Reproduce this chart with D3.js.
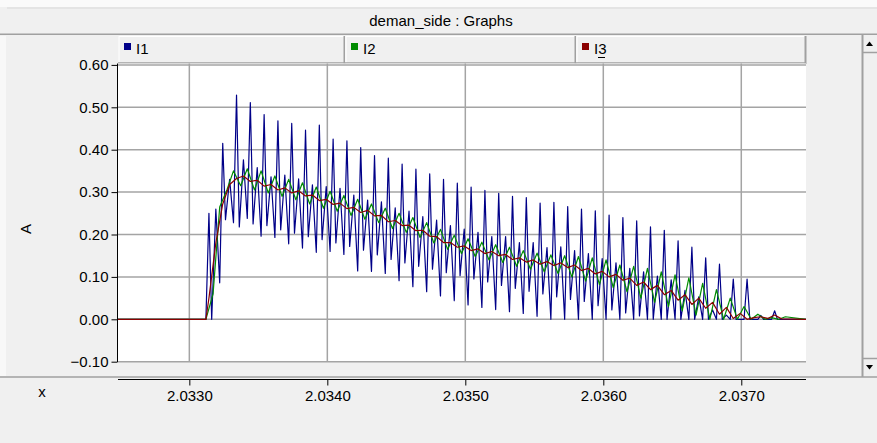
<!DOCTYPE html>
<html>
<head>
<meta charset="utf-8">
<script src="https://cdn.jsdelivr.net/npm/d3@7"></script>
<style>
  html, body { margin: 0; padding: 0; background: #f0f0f0; }
  svg { display: block; }
  text { font-family: Arial, "Liberation Sans", sans-serif; fill: #000; }
</style>
</head>
<body>
<svg id="chart" width="877" height="443"></svg>
<script>
// ---------------- data ----------------
const chartTitle = "deman_side : Graphs";
const seriesNames = ["I1", "I2", "I3"];
const yLabel = "A";
const xLabel = "x";
const xDomain = [2.032483, 2.037469];
const yDomain = [-0.1, 0.6];
const xTicks = [2.0330, 2.0340, 2.0350, 2.0360, 2.0370];
const yTicks = [-0.1, 0.0, 0.1, 0.2, 0.3, 0.4, 0.5, 0.6];

const onsetTime = 2.03312;      // currents start rising
const cycleStart = 2.033142;    // first switching cycle
const cyclePeriod = 0.0001;     // 10 kHz switching

// I1 : per switching cycle, sampled at peak / dip after / mid bump / dip before next peak
const i1Peak = [0.25, 0.415, 0.529, 0.511, 0.483, 0.468, 0.462, 0.446, 0.458, 0.425, 0.421, 0.405, 0.386, 0.380, 0.366, 0.354, 0.343, 0.330, 0.321, 0.312, 0.304, 0.297, 0.290, 0.287, 0.274, 0.276, 0.266, 0.260, 0.256, 0.246, 0.240, 0.232, 0.218, 0.210, 0.185, 0.170, 0.145, 0.130, 0.095, 0.095, 0.009, 0.020];
const i1DipAfter = [0, 0.235, 0.218, 0.225, 0.221, 0.211, 0.203, 0.195, 0.188, 0.180, 0.172, 0.163, 0.152, 0.141, 0.133, 0.125, 0.118, 0.110, 0.103, 0.095, 0.088, 0.080, 0.073, 0.066, 0.060, 0.053, 0.047, 0.042, 0.032, 0.022, 0.015, 0.008, 0, 0, 0, 0, 0, 0, 0, 0, 0, 0];
const i1Mid = [0.26, 0.33, 0.376, 0.358, 0.336, 0.340, 0.331, 0.317, 0.313, 0.309, 0.293, 0.281, 0.277, 0.263, 0.255, 0.242, 0.234, 0.221, 0.213, 0.205, 0.195, 0.195, 0.181, 0.181, 0.169, 0.171, 0.162, 0.155, 0.143, 0.133, 0.120, 0.112, 0.102, 0.093, 0.068, 0.053, 0.022, 0.010, 0, 0, 0, 0];
const i1DipBefore = [0.086, 0.228, 0.238, 0.196, 0.193, 0.178, 0.168, 0.158, 0.160, 0.153, 0.114, 0.113, 0.108, 0.091, 0.077, 0.065, 0.055, 0.044, 0.034, 0.028, 0.023, 0.018, 0.014, 0.007, 0, 0, 0, 0, 0, 0, 0, 0, 0, 0, 0, 0, 0, 0, 0, 0, 0, 0];

// I2 : per cycle low / high
const i2Lo = [0.06, 0.305, 0.315, 0.305, 0.298, 0.29, 0.282, 0.272, 0.262, 0.255, 0.245, 0.236, 0.228, 0.214, 0.205, 0.193, 0.18, 0.165, 0.155, 0.148, 0.14, 0.134, 0.125, 0.118, 0.112, 0.108, 0.1, 0.09, 0.082, 0.075, 0.065, 0.05, 0.04, 0.03, 0.02, 0.01, 0, 0, 0, 0, 0, 0];
const i2Hi = [0.265, 0.35, 0.355, 0.35, 0.338, 0.33, 0.322, 0.312, 0.302, 0.292, 0.283, 0.272, 0.262, 0.25, 0.24, 0.228, 0.212, 0.198, 0.19, 0.182, 0.176, 0.17, 0.162, 0.156, 0.152, 0.15, 0.148, 0.145, 0.14, 0.128, 0.125, 0.12, 0.112, 0.105, 0.098, 0.085, 0.07, 0.05, 0.03, 0.012, 0.004, 0.006];

// I3 : per cycle two samples
const i3A = [0.05, 0.272, 0.332, 0.325, 0.314, 0.305, 0.298, 0.291, 0.28, 0.271, 0.261, 0.252, 0.244, 0.23, 0.221, 0.209, 0.196, 0.181, 0.17, 0.162, 0.155, 0.15, 0.141, 0.135, 0.13, 0.127, 0.122, 0.115, 0.107, 0.1, 0.092, 0.08, 0.07, 0.058, 0.045, 0.035, 0.026, 0.012, 0.002, 0, 0.006, 0.01];
const i3B = [0.18, 0.318, 0.338, 0.328, 0.318, 0.31, 0.303, 0.293, 0.283, 0.274, 0.264, 0.257, 0.245, 0.233, 0.222, 0.21, 0.195, 0.181, 0.173, 0.166, 0.16, 0.153, 0.145, 0.14, 0.136, 0.133, 0.128, 0.12, 0.113, 0.106, 0.097, 0.088, 0.08, 0.068, 0.058, 0.05, 0.04, 0.028, 0.014, 0.004, 0.002, 0.001];

// ---------------- build series ----------------
function buildSeries(parts) {
  const pts = [[xDomain[0], 0], [onsetTime, 0]];
  const n = parts[0][1].length;
  for (let k = 0; k < n; k++) {
    const t = cycleStart + k * cyclePeriod;
    parts.forEach(([frac, arr]) => pts.push([t + frac * cyclePeriod, arr[k]]));
  }
  pts.push([xDomain[1], 0]);
  return pts;
}
const dataI1 = buildSeries([[0, i1Peak], [0.2, i1DipAfter], [0.5, i1Mid], [0.78, i1DipBefore]]);
const dataI2 = buildSeries([[0.3, i2Lo], [0.78, i2Hi]]);
const dataI3 = buildSeries([[0, i3A], [0.5, i3B]]);

// ---------------- drawing ----------------
const colors = { I1: "#000088", I2: "#008c00", I3: "#8b0000" };
const svg = d3.select("#chart");
const W = 877, H = 443;
const plot = { left: 118, right: 806, top: 63.5, bottom: 362 };

svg.append("rect").attr("width", W).attr("height", H).attr("fill", "#f0f0f0");
// top strip
svg.append("rect").attr("x", 0).attr("y", 0).attr("width", W).attr("height", 7).attr("fill", "#fafafa");
svg.append("line").attr("x1", 7).attr("x2", W).attr("y1", 8).attr("y2", 8).attr("stroke", "#d8d8d8").attr("stroke-width", 1);
// title
svg.append("text").attr("x", 441).attr("y", 26).attr("text-anchor", "middle")
  .attr("font-size", 15).text(chartTitle);
svg.append("line").attr("x1", 0).attr("x2", W).attr("y1", 34.2).attr("y2", 34.2)
  .attr("stroke", "#a0a0a0").attr("stroke-width", 1.6);

// left light strip
svg.append("rect").attr("x", 0).attr("y", 36).attr("width", 6).attr("height", 340).attr("fill", "#f8f8f8");

// legend cells
const legendEdges = [118, 345, 576, 806];
seriesNames.forEach((name, i) => {
  const x0 = legendEdges[i], x1 = legendEdges[i + 1];
  const g = svg.append("g");
  g.append("rect").attr("x", x0).attr("y", 36).attr("width", x1 - x0).attr("height", 27).attr("fill", "#f0f0f0");
  g.append("line").attr("x1", x0 + 1).attr("x2", x1 - 1).attr("y1", 36.5).attr("y2", 36.5).attr("stroke", "#ffffff");
  g.append("line").attr("x1", x0 + 1).attr("x2", x0 + 1).attr("y1", 36).attr("y2", 63).attr("stroke", "#ffffff");
  g.append("line").attr("x1", x1 - 0.5).attr("x2", x1 - 0.5).attr("y1", 36).attr("y2", 64).attr("stroke", "#a0a0a0").attr("stroke-width", 2);
  g.append("line").attr("x1", x0).attr("x2", x1).attr("y1", 63).attr("y2", 63).attr("stroke", "#a0a0a0").attr("stroke-width", 1.5);
  g.append("rect").attr("x", x0 + 6).attr("y", 43).attr("width", 7).attr("height", 7).attr("fill", colors[name]);
  g.append("text").attr("x", x0 + 18).attr("y", 54).attr("font-size", 15).text(name);
  if (name === "I3") {
    g.append("line").attr("x1", x0 + 22).attr("x2", x0 + 29).attr("y1", 57.5).attr("y2", 57.5).attr("stroke", "#000").attr("stroke-width", 1);
  }
});

// plot background
svg.append("rect").attr("x", plot.left).attr("y", plot.top)
  .attr("width", plot.right - plot.left).attr("height", plot.bottom - plot.top).attr("fill", "#ffffff");

const x = d3.scaleLinear().domain(xDomain).range([plot.left, plot.right]);
const y = d3.scaleLinear().domain(yDomain).range([361.7, 64.9]);

// grid
const grid = svg.append("g");
grid.selectAll(".hg").data(yTicks).join("line")
  .attr("x1", plot.left).attr("x2", plot.right)
  .attr("y1", d => y(d)).attr("y2", d => y(d))
  .attr("stroke", "#a4a4a4").attr("stroke-width", 1.5);
grid.selectAll(".vg").data(xTicks).join("line")
  .attr("x1", d => x(d)).attr("x2", d => x(d))
  .attr("y1", plot.top).attr("y2", plot.bottom)
  .attr("stroke", "#a4a4a4").attr("stroke-width", 1.5);

// clip
svg.append("clipPath").attr("id", "clip").append("rect")
  .attr("x", plot.left).attr("y", plot.top).attr("width", plot.right - plot.left).attr("height", plot.bottom - plot.top);

const line = d3.line().x(d => x(d[0])).y(d => y(d[1]));
const lines = svg.append("g").attr("clip-path", "url(#clip)");
[["I1", dataI1], ["I2", dataI2], ["I3", dataI3]].forEach(([name, data]) => {
  lines.append("path").datum(data).attr("d", line).attr("fill", "none")
    .attr("stroke", colors[name]).attr("stroke-width", 1.2).attr("stroke-linejoin", "round");
});

// y axis
const yAxis = d3.axisLeft(y).tickValues(yTicks).tickFormat(d3.format(".2f")).tickSize(6).tickPadding(3);
const yg = svg.append("g").attr("transform", `translate(${plot.left - 0.5},0)`).call(yAxis);
yg.select(".domain").attr("d", `M0,${plot.top}V${plot.bottom}`).attr("stroke", "#000");
yg.selectAll("text").attr("font-size", 15).attr("font-family", "Arial, 'Liberation Sans', sans-serif");
svg.append("text").attr("transform", "translate(31,229) rotate(-90)").attr("text-anchor", "middle")
  .attr("font-size", 15).text(yLabel);

// right scrollbar
svg.append("line").attr("x1", 862.5).attr("x2", 862.5).attr("y1", 35).attr("y2", 377).attr("stroke", "#a0a0a0").attr("stroke-width", 2);
svg.append("line").attr("x1", 863).attr("x2", W).attr("y1", 52.5).attr("y2", 52.5).attr("stroke", "#a0a0a0").attr("stroke-width", 1.5);
svg.append("line").attr("x1", 863).attr("x2", W).attr("y1", 358.5).attr("y2", 358.5).attr("stroke", "#a0a0a0").attr("stroke-width", 1.5);
svg.append("path").attr("d", "M866,46L869.5,41.5L873,46Z").attr("fill", "#000");
svg.append("path").attr("d", "M866,365L869.5,369.5L873,365Z").attr("fill", "#000");

// bottom panel border
svg.append("line").attr("x1", 0).attr("x2", W).attr("y1", 377).attr("y2", 377).attr("stroke", "#a0a0a0").attr("stroke-width", 1.6);

// x axis
const xAxis = d3.axisBottom(x).tickValues(xTicks).tickFormat(d3.format(".4f")).tickSize(6).tickPadding(5);
const xg = svg.append("g").attr("transform", "translate(0,379.5)").call(xAxis);
xg.select(".domain").attr("d", `M${plot.left},0H${plot.right}`).attr("stroke", "#000");
xg.selectAll("text").attr("font-size", 15).attr("font-family", "Arial, 'Liberation Sans', sans-serif");
svg.append("text").attr("x", 42).attr("y", 397).attr("text-anchor", "middle").attr("font-size", 15).text(xLabel);
</script>
</body>
</html>
